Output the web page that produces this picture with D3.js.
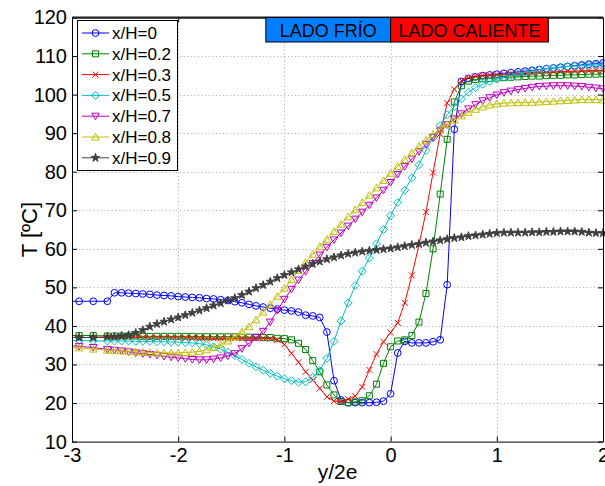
<!DOCTYPE html>
<html>
<head>
<meta charset="utf-8">
<script src="https://cdn.jsdelivr.net/npm/d3@7"></script>
<style>
  body { margin: 0; background: #fff; }
  svg { display: block; }
  text { font-family: "Liberation Sans", Arial, sans-serif; fill: #000; }
</style>
</head>
<body>
<svg id="chart" width="605" height="486"></svg>
<script>
// Position across the wall, y/2e
const yPos = [-3.067, -2.933, -2.8, -2.667, -2.6, -2.533, -2.467, -2.4, -2.333, -2.267,
  -2.2, -2.133, -2.067, -2.0, -1.933, -1.867, -1.8, -1.733, -1.667, -1.6,
  -1.533, -1.467, -1.4, -1.333, -1.267, -1.2, -1.133, -1.067, -1.0, -0.933,
  -0.867, -0.8, -0.733, -0.667, -0.6, -0.533, -0.467, -0.4, -0.333, -0.267,
  -0.2, -0.133, -0.067, 0, 0.067, 0.133, 0.2, 0.267, 0.333, 0.4,
  0.467, 0.533, 0.6, 0.667, 0.733, 0.8, 0.867, 0.933, 1.0, 1.067,
  1.133, 1.2, 1.267, 1.333, 1.4, 1.467, 1.533, 1.6, 1.667, 1.733,
  1.8, 1.867, 1.933, 2.0];

// Temperature profiles [ºC], one per height x/H
const tempH00 = [46.4, 46.4, 46.4, 46.4, 48.6, 48.6, 48.5, 48.4, 48.3, 48.2,
  48.0, 47.9, 47.8, 47.6, 47.5, 47.4, 47.3, 47.1, 47.0, 46.8,
  46.6, 46.3, 46.0, 45.6, 45.2, 44.9, 44.6, 44.4, 44.1, 43.9,
  43.6, 42.8, 42.6, 42.2, 38.4, 25.8, 20.8, 20.1, 20.1, 20.1,
  20.1, 20.2, 20.5, 22.4, 33.0, 36.0, 35.6, 35.6, 35.6, 35.9,
  36.4, 50.7, 91.0, 103.4, 104.2, 104.6, 104.9, 105.1, 105.3, 105.5,
  105.7, 105.9, 106.1, 106.3, 106.5, 106.7, 106.9, 107.1, 107.3, 107.5,
  107.7, 107.9, 108.0, 108.2];
const tempH02 = [37.5, 37.5, 37.5, 37.4, 37.4, 37.4, 37.4, 37.4, 37.3, 37.3,
  37.3, 37.3, 37.3, 37.3, 37.3, 37.3, 37.2, 37.2, 37.2, 37.2,
  37.2, 37.2, 37.1, 37.1, 37.1, 37.0, 37.0, 36.8, 36.7, 36.4,
  35.5, 33.9, 31.0, 28.1, 24.7, 22.1, 20.4, 20.1, 20.3, 20.6,
  21.9, 24.9, 30.3, 34.6, 36.1, 36.4, 37.5, 41.0, 48.4, 60.0,
  74.2, 88.4, 98.1, 102.3, 103.5, 103.9, 104.1, 104.2, 104.3, 104.4,
  104.5, 104.6, 104.7, 104.8, 104.8, 104.9, 105.0, 105.0, 105.1, 105.1,
  105.2, 105.3, 105.3, 105.4];
const tempH03 = [37.0, 37.0, 37.0, 37.0, 37.0, 37.0, 37.0, 37.0, 37.0, 36.9,
  36.9, 36.9, 36.9, 36.9, 36.9, 36.9, 36.9, 36.8, 36.8, 36.8,
  36.8, 36.8, 36.8, 36.8, 36.8, 36.8, 36.7, 36.4, 35.2, 32.9,
  30.6, 28.1, 26.0, 23.8, 21.6, 20.5, 20.4, 21.0, 21.8, 24.2,
  28.6, 32.7, 35.9, 38.3, 40.8, 46.0, 53.1, 61.0, 69.5, 79.8,
  89.8, 97.8, 101.4, 103.6, 104.4, 104.8, 105.0, 105.1, 105.2, 105.3,
  105.4, 105.5, 105.6, 105.7, 105.8, 105.8, 105.9, 106.0, 106.0, 106.1,
  106.2, 106.2, 106.3, 106.3];
const tempH05 = [36.2, 36.2, 36.1, 36.1, 36.1, 36.1, 36.1, 36.0, 36.0, 36.0,
  35.9, 35.9, 35.8, 35.8, 35.7, 35.6, 35.4, 35.1, 34.6, 34.0,
  33.2, 32.3, 31.3, 30.3, 29.4, 28.5, 27.7, 27.0, 26.3, 25.8,
  25.4, 25.5, 26.7, 28.4, 31.6, 36.0, 41.3, 46.0, 50.5, 54.2,
  57.6, 61.3, 65.0, 68.6, 72.0, 75.2, 78.4, 81.8, 85.5, 88.8,
  92.0, 94.8, 96.9, 98.9, 100.6, 101.8, 102.7, 103.4, 104.0, 104.5,
  105.0, 105.4, 105.8, 106.1, 106.4, 106.7, 106.9, 107.1, 107.3, 107.4,
  107.5, 107.6, 107.7, 107.8];
const tempH07 = [35.0, 34.7, 34.4, 33.9, 33.7, 33.5, 33.3, 33.0, 32.8, 32.6,
  32.4, 32.1, 31.9, 31.7, 31.5, 31.3, 31.2, 31.2, 31.4, 31.7,
  32.2, 32.8, 34.1, 35.5, 37.0, 38.6, 41.0, 44.0, 46.9, 49.5,
  51.9, 54.1, 56.2, 58.4, 60.4, 62.3, 64.1, 65.9, 67.7, 69.5,
  71.3, 73.2, 75.2, 77.2, 79.3, 81.3, 83.3, 85.2, 87.1, 88.9,
  90.6, 92.2, 93.7, 95.0, 96.3, 97.4, 98.4, 99.2, 99.9, 100.5,
  100.9, 101.3, 101.6, 101.9, 102.1, 102.2, 102.3, 102.3, 102.3, 102.2,
  102.1, 101.9, 101.7, 101.5];
const tempH08 = [34.5, 34.3, 34.0, 33.7, 33.6, 33.5, 33.4, 33.3, 33.2, 33.1,
  33.0, 33.0, 33.0, 33.0, 33.1, 33.2, 33.4, 33.8, 34.4, 35.2,
  36.1, 37.2, 38.5, 39.8, 41.6, 43.6, 45.6, 47.7, 49.8, 52.0,
  54.4, 56.5, 58.6, 60.6, 62.5, 64.5, 66.4, 68.3, 70.1, 72.0,
  73.9, 75.8, 77.7, 79.6, 81.4, 83.2, 84.9, 86.6, 88.2, 89.7,
  91.0, 92.3, 93.4, 94.5, 95.4, 96.2, 96.8, 97.3, 97.6, 97.8,
  97.9, 97.9, 98.0, 98.0, 98.1, 98.2, 98.3, 98.4, 98.5, 98.6,
  98.7, 98.7, 98.7, 98.6];
const tempH09 = [37.0, 37.0, 37.0, 37.2, 37.2, 37.4, 37.6, 38.2, 38.9, 39.8,
  40.5, 41.1, 41.7, 42.2, 42.8, 43.4, 44.0, 44.6, 45.3, 45.9,
  46.6, 47.2, 48.0, 48.9, 49.8, 50.6, 51.5, 52.4, 53.2, 53.9,
  54.7, 55.4, 56.1, 56.7, 57.3, 57.8, 58.3, 58.7, 59.0, 59.3,
  59.5, 59.7, 59.9, 60.1, 60.4, 60.7, 61.0, 61.3, 61.6, 61.9,
  62.2, 62.5, 62.8, 63.0, 63.3, 63.5, 63.7, 63.9, 64.1, 64.2,
  64.2, 64.2, 64.2, 64.3, 64.3, 64.4, 64.4, 64.5, 64.5, 64.5,
  64.4, 64.2, 64.1, 64.1];

const seriesNames = ["x/H=0", "x/H=0.2", "x/H=0.3", "x/H=0.5", "x/H=0.7", "x/H=0.8", "x/H=0.9"];
const seriesValues = [tempH00, tempH02, tempH03, tempH05, tempH07, tempH08, tempH09];
const xTicks = [-3, -2, -1, 0, 1, 2];
const yTicks = [10, 20, 30, 40, 50, 60, 70, 80, 90, 100, 110, 120];
const sideLabels = ["LADO FRÍO", "LADO CALIENTE"];

// Line colour and marker shape per series
const styles = [
  { color: "#0000ff", marker: "circle" },
  { color: "#008000", marker: "square" },
  { color: "#ff0000", marker: "cross" },
  { color: "#00bfbf", marker: "diamond" },
  { color: "#bf00bf", marker: "tridown" },
  { color: "#bfbf00", marker: "triup" },
  { color: "#404040", marker: "star" }
];

const W = 605, H = 486;
const margin = { left: 72, right: 2, top: 17.5, bottom: 44.4 };
const svg = d3.select("#chart");

const x = d3.scaleLinear().domain([-3, 2]).range([margin.left, W - margin.right]);
const y = d3.scaleLinear().domain([10, 120]).range([H - margin.bottom, margin.top]);
const [x0, x1] = x.range();
const [y0, y1] = [y(120), y(10)];

svg.append("defs").append("clipPath").attr("id", "plotClip")
  .append("rect").attr("x", x0).attr("y", y0 - 6).attr("width", x1 - x0 + 6).attr("height", y1 - y0 + 12);

// Dotted grid
const grid = svg.append("g").attr("stroke", "#a8a8a8").attr("stroke-width", 1)
  .attr("stroke-dasharray", "1,2.6");
grid.selectAll(".gx").data(xTicks.slice(1, -1)).join("line")
  .attr("x1", d => Math.round(x(d)) + 0.5).attr("x2", d => Math.round(x(d)) + 0.5)
  .attr("y1", y0).attr("y2", y1);
grid.selectAll(".gy").data(yTicks.slice(1, -1)).join("line")
  .attr("y1", d => Math.round(y(d)) + 0.5).attr("y2", d => Math.round(y(d)) + 0.5)
  .attr("x1", x0).attr("x2", x1);

// Marker shapes
function markerPath(kind) {
  switch (kind) {
    case "square": return "M-3,-3H3V3H-3Z";
    case "cross": return "M-3,-3L3,3M-3,3L3,-3";
    case "diamond": return "M0,-4L4,0L0,4L-4,0Z";
    case "tridown": return "M-3.8,-3L3.8,-3L0,3.6Z";
    case "triup": return "M-3.8,3L3.8,3L0,-3.6Z";
    case "star": return d3.symbol(d3.symbolStar, 22)();
    default: return null;
  }
}
function drawMarker(sel, style) {
  if (style.marker === "circle") {
    sel.append("circle").attr("r", 3.4)
      .attr("fill", "none").attr("stroke", style.color).attr("stroke-width", 1);
  } else {
    sel.append("path").attr("d", markerPath(style.marker))
      .attr("fill", style.marker === "star" ? style.color : "none")
      .attr("stroke", style.color).attr("stroke-width", 1);
  }
}

// Data series
const plot = svg.append("g").attr("clip-path", "url(#plotClip)");
const line = d3.line().x((d, i) => x(yPos[i])).y(d => y(d));
seriesValues.forEach((vals, s) => {
  const st = styles[s];
  const g = plot.append("g");
  g.append("path").datum(vals).attr("d", line)
    .attr("fill", "none").attr("stroke", st.color).attr("stroke-width", 1);
  g.selectAll("g.m").data(vals).join("g").attr("class", "m")
    .attr("transform", (d, i) => `translate(${x(yPos[i])},${y(d)})`)
    .each(function () { drawMarker(d3.select(this), st); });
});

// Axes with inward ticks
const fmt = d => String(d);
const axisFont = g => g.selectAll("text").style("font-size", "20px")
  .style("font-family", "'Liberation Sans', Arial, sans-serif");
svg.append("g").attr("transform", `translate(0,${y1})`)
  .call(d3.axisBottom(x).tickValues(xTicks).tickFormat(fmt).tickSize(-5).tickSizeOuter(0).tickPadding(6))
  .call(axisFont);
svg.append("g").attr("transform", `translate(${x0},0)`)
  .call(d3.axisLeft(y).tickValues(yTicks).tickFormat(fmt).tickSize(-5).tickSizeOuter(0).tickPadding(5))
  .call(axisFont);
svg.append("g").attr("transform", `translate(0,${y0})`)
  .call(d3.axisTop(x).tickValues(xTicks).tickSize(-5).tickSizeOuter(0).tickFormat(""));
svg.append("g").attr("transform", `translate(${x1},0)`)
  .call(d3.axisRight(y).tickValues(yTicks).tickSize(-5).tickSizeOuter(0).tickFormat(""));
svg.selectAll(".domain").attr("stroke", "#000");
svg.append("line").attr("x1", x0).attr("x2", x1).attr("y1", y0).attr("y2", y0)
  .attr("stroke", "#222").attr("stroke-width", 2);

// Axis titles
svg.append("text").attr("x", (x0 + x1) / 2).attr("y", 479)
  .attr("text-anchor", "middle").style("font-size", "21px").text("y/2e");
svg.append("text").attr("transform", `translate(37,${(y0 + y1) / 2}) rotate(-90)`)
  .attr("text-anchor", "middle").style("font-size", "22px").text("T [ºC]");

// Cold / hot side banners
const banners = [
  { text: sideLabels[0], from: -1.175, to: 0, color: "#0080ff" },
  { text: sideLabels[1], from: 0, to: 1.485, color: "#ff0000" }
];
const bannerG = svg.append("g");
banners.forEach(b => {
  bannerG.append("rect").attr("x", x(b.from)).attr("y", y0).attr("width", x(b.to) - x(b.from))
    .attr("height", 24.5).attr("fill", b.color).attr("stroke", "#000").attr("stroke-width", 1);
  bannerG.append("text").attr("x", (x(b.from) + x(b.to)) / 2).attr("y", y0 + 19)
    .attr("text-anchor", "middle").style("font-size", "18px").text(b.text);
});

// Legend
const lg = svg.append("g").attr("transform", "translate(77,20)");
lg.append("rect").attr("x", 0.5).attr("y", 0.5).attr("width", 100).attr("height", 150)
  .attr("fill", "#fff").attr("stroke", "#000").attr("stroke-width", 1);
seriesNames.forEach((name, i) => {
  const cy = 13 + i * 20.8;
  const st = styles[i];
  lg.append("line").attr("x1", 5).attr("x2", 32).attr("y1", cy).attr("y2", cy)
    .attr("stroke", st.color).attr("stroke-width", 1);
  const m = lg.append("g").attr("transform", `translate(18.5,${cy})`);
  drawMarker(m, st);
  lg.append("text").attr("x", 35).attr("y", cy + 6).style("font-size", "17px").text(name);
});
</script>
</body>
</html>
